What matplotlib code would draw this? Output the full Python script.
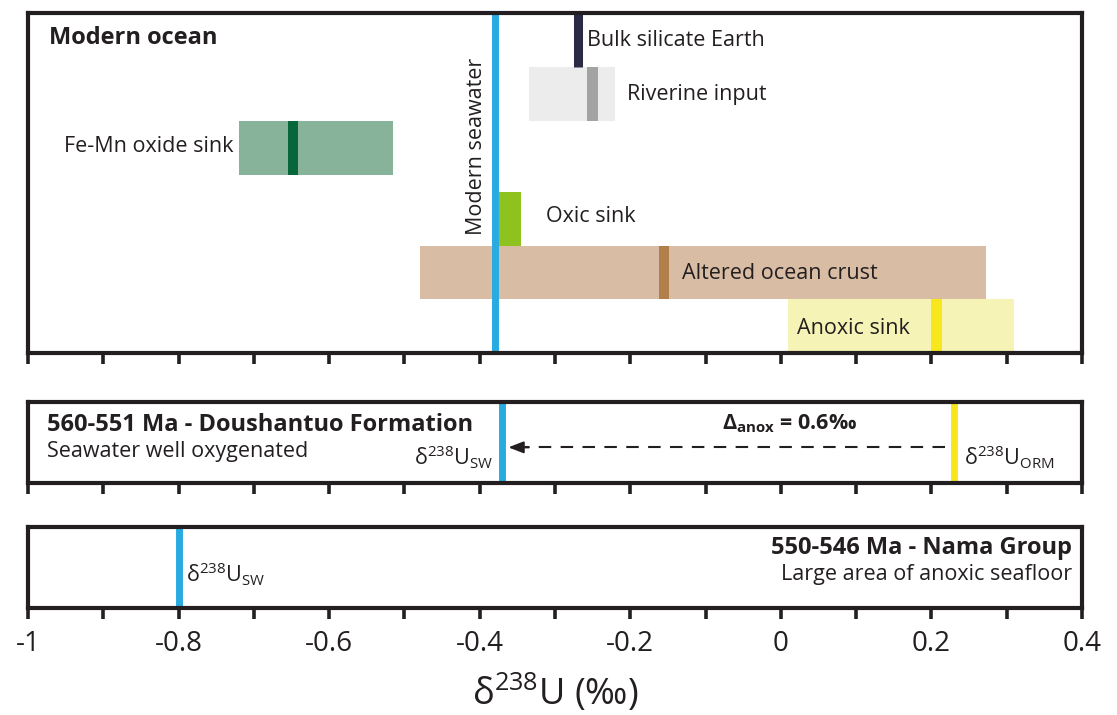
import numpy as np
import matplotlib
matplotlib.use('Agg')
import matplotlib.pyplot as plt

plt.rcParams['font.family'] = ['Open Sans', 'DejaVu Sans']
plt.rcParams['mathtext.fontset'] = 'custom'
plt.rcParams['mathtext.rm'] = 'Open Sans'
plt.rcParams['mathtext.it'] = 'Open Sans'
plt.rcParams['mathtext.bf'] = 'Open Sans:bold'

#----------------------------------------------------------------------------
# d238U values (permil)
box_names = ['Riverine input', 'Fe-Mn oxide sink', 'Oxic sink',
             'Altered ocean crust', 'Anoxic sink']
box_low = [-0.335, -0.72, -0.375, -0.48, 0.01]
box_high = [-0.22, -0.515, -0.345, 0.273, 0.309]
box_mean = [-0.25, -0.648, np.nan, -0.155, 0.207]

bse = -0.27            # bulk silicate Earth
modern_sw = -0.38      # modern seawater
doushantuo_sw = -0.37  # 560-551 Ma seawater
delta_anox = 0.6
orm = doushantuo_sw + delta_anox
nama_sw = -0.80        # 550-546 Ma seawater

xticks_major = [-1, -0.8, -0.6, -0.4, -0.2, 0, 0.2, 0.4]
xticklabels = ['-1', '-0.8', '-0.6', '-0.4', '-0.2', '0', '0.2', '0.4']
xticks_minor = [-0.9, -0.7, -0.5, -0.3, -0.1, 0.1, 0.3]

#----------------------------------------------------------------------------
# styles
K = '#231f20'
BLUE = '#29abe2'
box_rows = [(4.33, 5.35), (3.33, 4.33), (2.0, 3.0), (1.0, 2.0), (0.0, 1.0)]
box_fill = ['#ececec', '#86b399', '#8dc21f', '#d8bca3', '#f5f3b5']
box_mark = ['#a3a3a3', '#08673a', None, '#b07f4a', '#f8e71c']
mark_w = 0.014

fig = plt.figure(figsize=(11.17, 7.15), dpi=100)
ax1 = fig.add_axes([0.0251, 0.5063, 0.9436, 0.4755])
ax2 = fig.add_axes([0.0251, 0.3245, 0.9436, 0.1133])
ax3 = fig.add_axes([0.0251, 0.1497, 0.9436, 0.1133])

for ax in (ax1, ax2, ax3):
    ax.set_xlim(-1, 0.4)
    ax.set_yticks([])
    ax.set_xticks(xticks_major)
    ax.set_xticks(xticks_minor, minor=True)
    ax.tick_params(axis='x', which='both', direction='out', length=8,
                   width=2.6, color=K, labelsize=20, labelcolor=K, pad=8)
    for s in ax.spines.values():
        s.set_linewidth(3)
        s.set_color(K)
        s.set_zorder(10)
ax1.set_xticklabels([])
ax2.set_xticklabels([])
ax3.set_xticklabels(xticklabels)

#----------------------------------------------------------------------------
# modern ocean panel
ax1.set_ylim(0, 6.35)
for i in range(len(box_names)):
    y0, y1 = box_rows[i]
    ax1.fill_between([box_low[i], box_high[i]], y0, y1, color=box_fill[i],
                     lw=0, zorder=1)
    if box_mark[i] is not None:
        ax1.fill_between([box_mean[i] - mark_w / 2, box_mean[i] + mark_w / 2],
                         y0, y1, color=box_mark[i], lw=0, zorder=2)

ax1.plot([bse, bse], [5.35, 6.35], color='#2b2a45', lw=6.5,
         solid_capstyle='butt', zorder=3)
ax1.axvline(modern_sw, color=BLUE, lw=5, zorder=4)

fs = 15.5
fsb = 17
ax1.text(-0.972, 5.89, 'Modern ocean', fontsize=fsb, fontweight='bold',
         color=K, va='center')
ax1.text(bse + 0.013, 5.83, 'Bulk silicate Earth', fontsize=fs, color=K,
         va='center')
ax1.text(-0.205, 4.82, 'Riverine input', fontsize=fs, color=K, va='center')
ax1.text(box_low[1] - 0.007, 3.85, 'Fe-Mn oxide sink', fontsize=fs, color=K,
         va='center', ha='right')
ax1.text(-0.404, 3.85, 'Modern seawater', fontsize=fs, color=K,
         va='center', ha='center', rotation=90)
ax1.text(-0.312, 2.55, 'Oxic sink', fontsize=fs, color=K, va='center')
ax1.text(-0.132, 1.48, 'Altered ocean crust', fontsize=fs, color=K,
         va='center')
ax1.text(0.022, 0.45, 'Anoxic sink', fontsize=fs, color=K, va='center')

#----------------------------------------------------------------------------
# Doushantuo panel
ax2.set_ylim(0, 1)
ax2.axvline(doushantuo_sw, color=BLUE, lw=5, zorder=4)
ax2.axvline(orm, color='#f8e71c', lw=5, zorder=4)
ax2.plot([orm - 0.012, doushantuo_sw + 0.03], [0.44, 0.44], color=K,
         lw=1.5, dashes=(6, 4.5))
ax2.annotate('', xy=(doushantuo_sw + 0.008, 0.44),
             xytext=(doushantuo_sw + 0.035, 0.44),
             arrowprops=dict(arrowstyle='-|>,head_length=0.9,head_width=0.35',
                             color=K, lw=1.5, shrinkA=0, shrinkB=0))
ax2.text(-0.975, 0.72, '560-551 Ma - Doushantuo Formation', fontsize=fsb,
         fontweight='bold', color=K, va='center')
ax2.text(-0.975, 0.39, 'Seawater well oxygenated', fontsize=fs, color=K,
         va='center')
ax2.text(doushantuo_sw - 0.012, 0.32, r'$\mathrm{δ^{238}U_{SW}}$', fontsize=fs,
         color=K, va='center', ha='right')
ax2.text(0.011, 0.73, r'$\mathbf{Δ_{anox}}$' + ' = %.1f‰' % delta_anox,
         fontsize=fs, fontweight='bold', color=K, va='center', ha='center')
ax2.text(orm + 0.013, 0.32, r'$\mathrm{δ^{238}U_{ORM}}$', fontsize=fs,
         color=K, va='center')

#----------------------------------------------------------------------------
# Nama panel
ax3.set_ylim(0, 1)
ax3.axvline(nama_sw, color=BLUE, lw=5, zorder=4)
ax3.text(0.387, 0.74, '550-546 Ma - Nama Group', fontsize=fsb,
         fontweight='bold', color=K, va='center', ha='right')
ax3.text(0.387, 0.41, 'Large area of anoxic seafloor', fontsize=fs, color=K,
         va='center', ha='right')
ax3.text(nama_sw + 0.01, 0.42, r'$\mathrm{δ^{238}U_{SW}}$', fontsize=fs,
         color=K, va='center')
ax3.set_xlabel(r'$\mathrm{δ^{238}U}$ (‰)', fontsize=26, color=K, labelpad=10)

plt.savefig('out.png', dpi=100)
